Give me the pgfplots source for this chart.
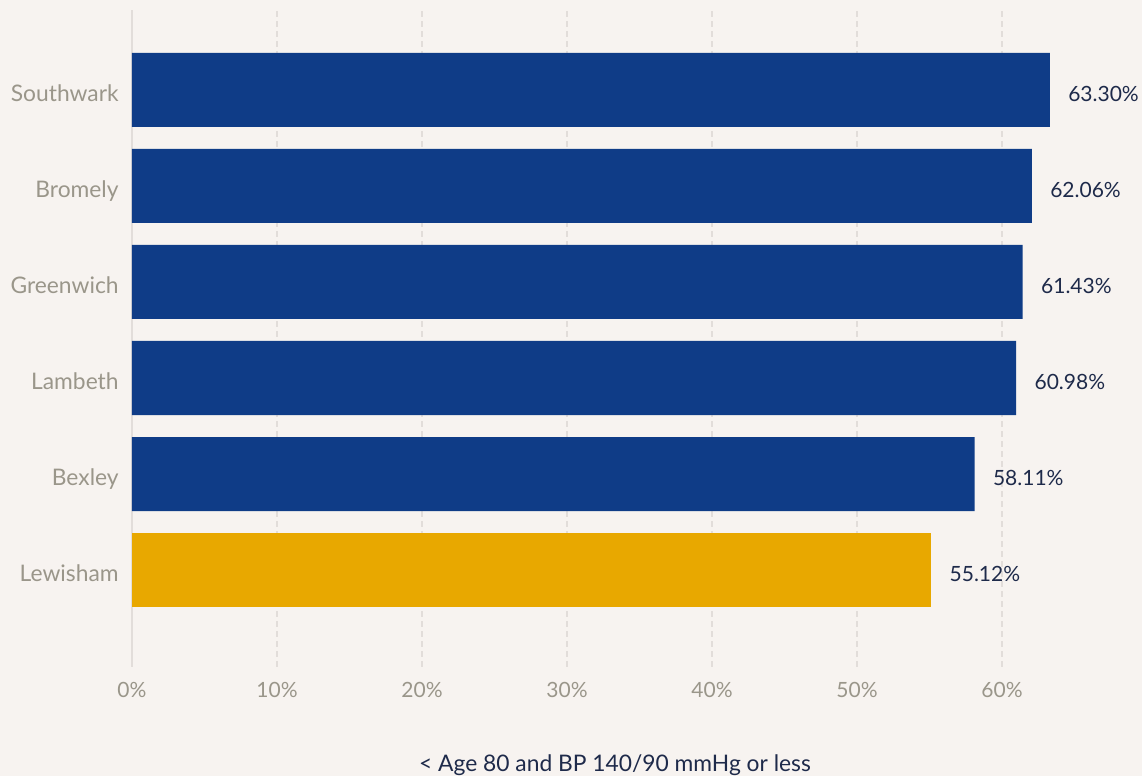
\documentclass[border=0pt]{standalone}
\usepackage{pgfplots}
\pgfplotsset{compat=1.18}
\usepackage{fontspec}
\setmainfont{Lato}
\definecolor{bg}{HTML}{F7F3F0}
\definecolor{navy}{HTML}{0F3C87}
\definecolor{gold}{HTML}{E8A800}
\definecolor{ticktxt}{HTML}{9A968A}
\definecolor{darktxt}{HTML}{1E2A4A}
\definecolor{gridc}{HTML}{E2DDDA}
\begin{document}
\begin{tikzpicture}
\path[use as bounding box, fill=bg] (-66pt,-54.5pt) rectangle (505pt,333.5pt);
\begin{axis}[
  at={(0,0)}, anchor=south west,
  scale only axis,
  width=483pt, height=328.5pt,
  xbar, bar width=37pt, bar shift=0pt,
  xmin=0, xmax=66.62,
  ymin=-1.01, ymax=5.833,
  ytick={0,1,2,3,4,5},
  yticklabels={Lewisham,Bexley,Lambeth,Greenwich,Bromely,Southwark},
  xtick={0,10,20,30,40,50,60},
  xticklabel={\pgfmathprintnumber{\tick}\%},
  /pgf/number format/assume math mode=true,
  major tick length=0pt,
  axis lines*=left,
  x axis line style={draw=none},
  y axis line style={draw=gridc, line width=1.2pt},
  xmajorgrids,
  major grid style={draw=gridc, line width=1pt, dash pattern=on 3pt off 2pt},
  tick label style={font=\fontsize{10.5}{12}\selectfont, text=ticktxt},
  xticklabel style={anchor=base, yshift=-15.5pt, inner sep=0pt},
  yticklabel style={anchor=base east, inner sep=0pt, xshift=-6.5pt, yshift=-5.7pt,
    font=\fontsize{11.4}{13}\selectfont},
  xlabel={< Age 80 and BP 140/90 mmHg or less},
  xlabel style={at={(axis description cs:0.5,0)}, anchor=base, yshift=-52.5pt, inner sep=0pt,
    font=\fontsize{11.4}{13}\selectfont, text=darktxt},
  nodes near coords={\pgfmathprintnumber[fixed,fixed zerofill,precision=2]{\pgfplotspointmeta}\%},
  point meta=x,
  every node near coord/.append style={anchor=base west, inner sep=0pt, xshift=9pt, yshift=-5.7pt,
    font=\fontsize{10.5}{12}\selectfont, text=darktxt},
  clip=false,
]
\addplot[fill=navy, draw=none] coordinates {(58.11,1) (60.98,2) (61.43,3) (62.06,4) (63.30,5)};
\addplot[fill=gold, draw=none] coordinates {(55.12,0)};
\end{axis}
\end{tikzpicture}
\end{document}
